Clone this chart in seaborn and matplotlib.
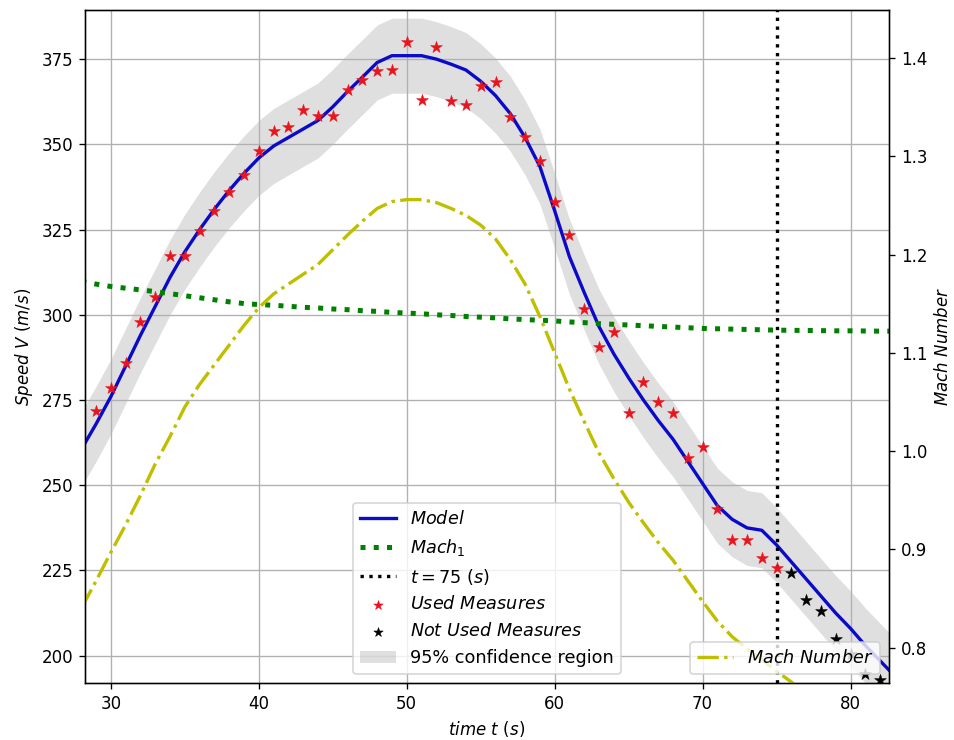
import numpy as np
import pandas as pd
import matplotlib
matplotlib.use("Agg")
import matplotlib.pyplot as plt
import seaborn as sns

# ---------------- data ----------------
t_model = list(range(28, 84))
v_model = [260.5, 268.0, 276.0, 285.0, 294.0, 302.5, 311.0, 318.5, 325.0, 331.0,
           336.5, 341.5, 346.0, 349.5, 352.0, 354.5, 357.0, 361.0, 365.5, 369.7,
           374.0, 376.0, 376.0, 376.0, 375.0, 373.5, 371.8, 368.5, 364.3, 359.0,
           352.0, 343.5, 330.5, 317.0, 306.5, 296.5, 288.5, 281.5, 275.0, 269.0,
           263.5, 257.0, 250.5, 244.0, 240.0, 237.5, 236.8, 232.5, 227.5, 222.5,
           217.5, 212.5, 208.0, 203.0, 198.5, 194.0]
ci_lower = [249.5, 257.0, 265.0, 274.0, 283.0, 291.5, 300.0, 307.5, 314.0, 320.0,
            325.5, 330.5, 335.0, 338.5, 341.0, 343.5, 346.0, 350.0, 354.5, 358.7,
            363.0, 365.0, 365.0, 365.0, 364.0, 362.5, 360.8, 357.5, 353.3, 348.0,
            341.0, 332.5, 319.5, 306.0, 295.5, 285.5, 277.5, 270.5, 264.0, 258.0,
            252.5, 246.0, 239.5, 233.0, 229.0, 226.5, 225.8, 221.5, 216.5, 211.5,
            206.5, 201.5, 197.0, 192.0, 187.5, 183.0]
ci_upper = [271.5, 279.0, 287.0, 296.0, 305.0, 313.5, 322.0, 329.5, 336.0, 342.0,
            347.5, 352.5, 357.0, 360.5, 363.0, 365.5, 368.0, 372.0, 376.5, 380.7,
            385.0, 387.0, 387.0, 387.0, 386.0, 384.5, 382.8, 379.5, 375.3, 370.0,
            363.0, 354.5, 341.5, 328.0, 317.5, 307.5, 299.5, 292.5, 286.0, 280.0,
            274.5, 268.0, 261.5, 255.0, 251.0, 248.5, 247.8, 243.5, 238.5, 233.5,
            228.5, 223.5, 219.0, 214.0, 209.5, 205.0]
v_sound = [309.8, 309.0, 308.3, 307.8, 307.3, 306.8, 306.2, 305.6, 305.0, 304.4,
           303.8, 303.3, 303.0, 302.8, 302.5, 302.2, 302.0, 301.7, 301.5, 301.2,
           301.0, 300.7, 300.5, 300.3, 300.0, 299.8, 299.5, 299.3, 299.1, 298.8,
           298.6, 298.4, 298.2, 297.9, 297.7, 297.4, 297.2, 297.0, 296.8, 296.6,
           296.4, 296.2, 296.0, 295.9, 295.8, 295.7, 295.6, 295.5, 295.45, 295.4,
           295.35, 295.3, 295.3, 295.25, 295.2, 295.2]
mach = [0.840, 0.868, 0.897, 0.925, 0.955, 0.987, 1.015, 1.045, 1.068, 1.088,
        1.108, 1.128, 1.146, 1.160, 1.170, 1.180, 1.190, 1.205, 1.220, 1.234,
        1.247, 1.254, 1.256, 1.256, 1.253, 1.247, 1.240, 1.230, 1.216, 1.195,
        1.170, 1.137, 1.100, 1.063, 1.030, 0.998, 0.972, 0.948, 0.927, 0.907,
        0.889, 0.868, 0.847, 0.827, 0.811, 0.799, 0.788, 0.776, 0.765, 0.752]
t_mach = list(range(28, 28 + len(mach)))

t_used = list(range(29, 76))
v_used = [271.7, 278.5, 285.9, 297.9, 305.2, 317.2, 317.2, 324.6, 330.4, 336.0,
          341.0, 348.0, 353.9, 355.0, 360.0, 358.4, 358.4, 365.9, 368.8, 371.6,
          371.8, 380.0, 363.0, 378.6, 362.7, 361.5, 367.0, 368.3, 358.0, 352.1,
          345.1, 333.0, 323.4, 301.6, 290.5, 295.0, 271.2, 280.4, 274.4, 271.2,
          258.0, 261.2, 243.0, 234.0, 234.0, 228.7, 225.6]
t_unused = list(range(76, 83))
v_unused = [224.3, 216.3, 213.0, 205.0, 200.5, 194.6, 192.9]

t_cut = 75

# ---------------- figure ----------------
plt.rcParams['font.family'] = ['DejaVu Sans']
plt.rcParams['font.size'] = 10
plt.rcParams['mathtext.fontset'] = 'dejavusans'

fig = plt.figure(figsize=(954 / 120, 740 / 120), dpi=120)
ax1 = fig.add_axes([85 / 954, 57 / 740, 804 / 954, 673 / 740])
ax2 = ax1.twinx()

df_model = pd.DataFrame({'t': t_model, 'v': v_model, 'lo': ci_lower,
                         'hi': ci_upper, 'a': v_sound})
df_used = pd.DataFrame({'t': t_used, 'v': v_used})
df_unused = pd.DataFrame({'t': t_unused, 'v': v_unused})
df_mach = pd.DataFrame({'t': t_mach, 'm': mach})

band = ax1.fill_between(df_model['t'], df_model['lo'], df_model['hi'],
                        color='gray', alpha=0.25, linewidth=0,
                        label='95% confidence region', zorder=0.5)
sns.lineplot(data=df_model, x='t', y='v', ax=ax1, color='#0a0ac8', lw=2,
             estimator=None, label=r'$Model$', legend=False)
sns.lineplot(data=df_model, x='t', y='a', ax=ax1, color='green', lw=3,
             linestyle=':', estimator=None, label=r'$Mach_1$', legend=False)
vl = ax1.axvline(t_cut, color='black', lw=2, linestyle=':',
                 label=r'$t = 75\ (s)$')
sns.scatterplot(data=df_used, x='t', y='v', ax=ax1, marker='*', s=55,
                color='#e8141e', edgecolor='#e8141e', linewidth=0.3,
                label=r'$Used\ Measures$', legend=False, zorder=3)
sns.scatterplot(data=df_unused, x='t', y='v', ax=ax1, marker='*', s=55,
                color='black', edgecolor='black', linewidth=0.3,
                label=r'$Not\ Used\ Measures$', legend=False, zorder=3)

sns.lineplot(data=df_mach, x='t', y='m', ax=ax2, color='y', lw=2,
             linestyle='-.', estimator=None, label=r'$Mach\ Number$',
             legend=False)

ax1.set_xlim(28.25, 82.6)
ax1.set_ylim(192.0, 389.4)
ax2.set_ylim(0.764, 1.449)
ax1.set_xticks([30, 40, 50, 60, 70, 80])
ax1.set_yticks([200, 225, 250, 275, 300, 325, 350, 375])
ax2.set_yticks([0.8, 0.9, 1.0, 1.1, 1.2, 1.3, 1.4])
ax1.grid(True)

ax1.set_xlabel(r'$time\ t\ (s)$')
ax1.set_ylabel(r'$Speed\ V\ (m/s)$')
ax2.set_ylabel(r'$Mach\ Number$')

h1, l1 = ax1.get_legend_handles_labels()
order = [r'$Model$', r'$Mach_1$', r'$t = 75\ (s)$', r'$Used\ Measures$',
         r'$Not\ Used\ Measures$', '95% confidence region']
hd = dict(zip(l1, h1))
ax1.legend([hd[k] for k in order], order, loc='lower center',
           fontsize=10.6, markerscale=0.8)
ax2.legend(loc='lower right', fontsize=10.6)

fig.savefig('out.png', dpi=120)
